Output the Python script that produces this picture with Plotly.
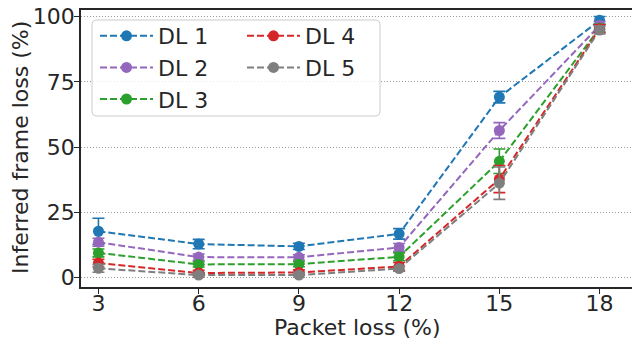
import plotly.graph_objects as go

packet_loss = [3, 6, 9, 12, 15, 18]
series_names = ["DL 1", "DL 2", "DL 3", "DL 4", "DL 5"]
dl1 = [17.8, 12.9, 12.0, 16.8, 69.2, 98.6]
dl2 = [13.6, 7.9, 7.8, 11.6, 56.4, 96.6]
dl3 = [9.5, 5.1, 5.2, 8.0, 44.6, 95.6]
dl4 = [5.6, 1.8, 2.0, 4.3, 37.8, 95.4]
dl5 = [3.6, 1.0, 1.0, 3.5, 36.2, 94.9]
err1 = [5.0, 1.8, 1.2, 2.0, 2.2, 1.5]
err2 = [1.5, 1.2, 1.0, 1.5, 3.0, 1.5]
err3 = [1.5, 1.0, 1.0, 1.5, 4.7, 1.5]
err4 = [1.5, 1.0, 1.0, 1.5, 5.2, 1.5]
err5 = [1.5, 0.8, 0.8, 1.0, 6.2, 1.5]
colors = ["#1f77b4", "#9467bd", "#2ca02c", "#d62728", "#7f7f7f"]
y_ticks = [0, 25, 50, 75, 100]
x_ticks = [3, 6, 9, 12, 15, 18]
x_title = "Packet loss (%)"
y_title = "Inferred frame loss (%)"

values = [dl1, dl2, dl3, dl4, dl5]
errors = [err1, err2, err3, err4, err5]
legend_ids = ["legend", "legend", "legend", "legend2", "legend2"]

fig = go.Figure()
for name, vals, errs, col, lg in zip(series_names, values, errors, colors, legend_ids):
    fig.add_trace(go.Scatter(
        x=packet_loss, y=vals, name=name, mode="lines+markers",
        line=dict(color=col, width=2, dash="7px,3px"),
        marker=dict(color=col, size=11),
        error_y=dict(type="data", array=errs, visible=True, color=col,
                     thickness=1.6, width=6),
        legend=lg,
    ))

txt = "#262626"
FS = 22
W, H = 632, 341
L, R, T, B = 81, 0, 10, 54
pw, ph = W - L - R, H - T - B


def px2paper(xp, yp):
    return (xp - L) / pw, (H - B - yp) / ph


# rounded legend frame
bx0, by0 = px2paper(92, 116)
bx1, by1 = px2paper(380, 20)
rx, ry = 5 / pw, 5 / ph
path = (f"M {bx0+rx},{by1} L {bx1-rx},{by1} Q {bx1},{by1} {bx1},{by1-ry} "
        f"L {bx1},{by0+ry} Q {bx1},{by0} {bx1-rx},{by0} L {bx0+rx},{by0} "
        f"Q {bx0},{by0} {bx0},{by0+ry} L {bx0},{by1-ry} Q {bx0},{by1} {bx0+rx},{by1} Z")

lx1, ly = px2paper(95, 15)
lx2, _ = px2paper(242, 15)
legend_common = dict(
    orientation="v", yanchor="top", xanchor="left",
    bgcolor="rgba(0,0,0,0)", borderwidth=0,
    font=dict(size=FS, color=txt), itemwidth=53, tracegroupgap=0,
)

xt_x, xt_y = px2paper(357, 328)
yt_x, yt_y = px2paper(20, 148)

fig.update_layout(
    width=W, height=H,
    margin=dict(l=L, r=R, t=T, b=B, autoexpand=False),
    paper_bgcolor="white", plot_bgcolor="white",
    font=dict(family="DejaVu Sans", size=FS, color=txt),
    showlegend=True,
    legend=dict(x=lx1, y=ly, **legend_common),
    legend2=dict(x=lx2, y=ly, **legend_common),
    shapes=[dict(type="path", path=path, xref="paper", yref="paper",
                 fillcolor="rgba(255,255,255,0.8)", line=dict(color="#cccccc", width=1),
                 layer="above")],
    annotations=[
        dict(text=x_title, xref="paper", yref="paper", x=xt_x, y=xt_y,
             xanchor="center", yanchor="middle", showarrow=False,
             font=dict(size=FS, color=txt)),
        dict(text=y_title, xref="paper", yref="paper", x=yt_x, y=yt_y,
             xanchor="center", yanchor="middle", showarrow=False, textangle=-90,
             font=dict(size=FS, color=txt)),
    ],
    xaxis=dict(
        range=[2.478, 18.97], tickvals=x_ticks, ticktext=[str(v) for v in x_ticks],
        showline=True, linecolor=txt, linewidth=1.8, mirror=False,
        ticks="outside", ticklen=5, tickwidth=1.4, tickcolor=txt,
        ticklabelstandoff=-9,
        showgrid=False, zeroline=False, automargin=False,
    ),
    xaxis2=dict(overlaying="x", side="top", range=[2.478, 18.97], showline=True,
                linecolor=txt, linewidth=1.8, showticklabels=False, ticks="",
                showgrid=False, zeroline=False, automargin=False),
    yaxis=dict(
        range=[-3.56, 102.57], tickvals=y_ticks, ticktext=[str(v) for v in y_ticks],
        showline=True, linecolor=txt, linewidth=1.8,
        ticks="outside", ticklen=5, tickwidth=1.4, tickcolor=txt,
        ticklabelstandoff=-5,
        showgrid=True, gridcolor="#999999", griddash="1px,2px", gridwidth=1,
        zeroline=False, automargin=False,
    ),
)
fig.add_trace(go.Scatter(x=[None], y=[None], xaxis="x2", showlegend=False, hoverinfo="skip"))
fig.write_html("out.html")
